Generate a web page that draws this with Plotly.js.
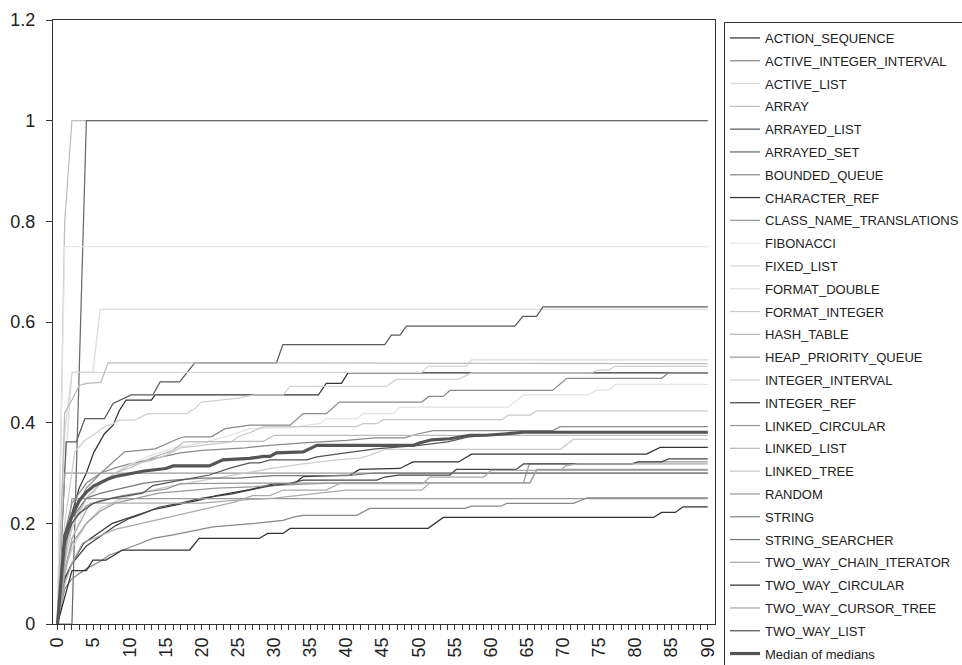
<!DOCTYPE html>
<html>
<head>
<meta charset="utf-8">
<script src="https://cdn.plot.ly/plotly-3.0.1.min.js"></script>
<style>
  html, body { margin: 0; padding: 0; background: #fff; }
  #chart { width: 962px; height: 665px; }
</style>
</head>
<body>
<div id="chart"></div>
<script>
// ---- Data (breakpoints) ----
const ACTION_SEQUENCE_X = [0,1,2,3,4,5,6.5,7.7,8.6,9.5,13,13.5,36.1,37.2,39.3,40.2,90];
const ACTION_SEQUENCE_Y = [0,0.14,0.22,0.27,0.30,0.34,0.378,0.395,0.425,0.445,0.445,0.455,0.455,0.478,0.478,0.499,0.499];

const ACTIVE_INTEGER_INTERVAL_X = [0,1,2,4,6,8,10,14,17,20,26,29.4,34,40,44,48,50,52,68.5,69.6,90];
const ACTIVE_INTEGER_INTERVAL_Y = [0,0.18,0.24,0.28,0.30,0.31,0.318,0.33,0.34,0.345,0.35,0.355,0.36,0.365,0.37,0.37,0.378,0.384,0.384,0.392,0.392];

const ACTIVE_LIST_X = [0,1,2,4.9,5.9,90];
const ACTIVE_LIST_Y = [0,0.30,0.50,0.50,0.625,0.625];

const ARRAY_X = [0,1,2,90];
const ARRAY_Y = [0,0.80,1,1];

const ARRAYED_LIST_X = [0,1,1.2,2.6,3.8,6.5,7.7,10.2,13.2,14.2,16.9,19,30.3,31.2,45.3,46.2,47.4,48.3,63.3,64.4,66.3,67.2,90];
const ARRAYED_LIST_Y = [0,0.32,0.362,0.362,0.408,0.408,0.438,0.455,0.455,0.481,0.481,0.519,0.519,0.555,0.555,0.574,0.574,0.592,0.592,0.611,0.611,0.630,0.630];

const ARRAYED_SET_X = [0,2,4,90];
const ARRAYED_SET_Y = [0,0,1,1];

const BOUNDED_QUEUE_X = [0,1,2,4,6,9.3,13.5,16.7,17.6,21.3,23.2,26.6,32.2,34,37.2,39,50.4,51.4,53.4,54.3,68.5,70.5,83.6,84.6,90];
const BOUNDED_QUEUE_Y = [0,0.15,0.21,0.27,0.30,0.342,0.348,0.368,0.372,0.372,0.388,0.395,0.395,0.418,0.418,0.441,0.441,0.452,0.452,0.464,0.464,0.488,0.488,0.499,0.499];

const CHARACTER_REF_X = [0,1,2,3.6,7.6,9,13.2,19.6,22,26.6,30,32.8,34,40.5,41.8,47.4,49.2,55.5,57.3,81.5,83.4,90];
const CHARACTER_REF_Y = [0,0.09,0.12,0.16,0.20,0.207,0.227,0.246,0.255,0.267,0.279,0.279,0.293,0.296,0.307,0.309,0.322,0.322,0.3375,0.3375,0.3507,0.3507];

const CLASS_NAME_TRANSLATIONS_X = [0,1,90];
const CLASS_NAME_TRANSLATIONS_Y = [0,0.30,0.30];

const FIBONACCI_X = [0,1,90];
const FIBONACCI_Y = [0,0.75,0.75];

const FIXED_LIST_X = [0,1,2,50.4,51.3,56.6,57.3,90];
const FIXED_LIST_Y = [0,0.38,0.50,0.50,0.512,0.512,0.525,0.525];

const FORMAT_DOUBLE_X = [0,1,2,4,6,9,12,16,20,24,26.6,32,36.3,37.2,41.4,42.3,46.5,47.4,62.4,64.5,73.5,74.6,76.3,77.2,90];
const FORMAT_DOUBLE_Y = [0,0.10,0.17,0.24,0.28,0.31,0.33,0.35,0.36,0.375,0.388,0.39,0.398,0.408,0.408,0.418,0.418,0.431,0.431,0.455,0.455,0.4645,0.4645,0.476,0.476];

const FORMAT_INTEGER_X = [0,1,2,4,6,9,12,15,18,22,26,30,34,38,42,43.2,45.3,69.6,71.4,90];
const FORMAT_INTEGER_Y = [0,0.10,0.15,0.20,0.23,0.25,0.262,0.272,0.28,0.29,0.30,0.31,0.318,0.325,0.33,0.335,0.347,0.347,0.3666,0.3666];

const HASH_TABLE_X = [0,1,2,3,4,6,7,90];
const HASH_TABLE_Y = [0,0.42,0.445,0.474,0.478,0.48,0.519,0.5175];

const HEAP_PRIORITY_QUEUE_X = [0,1,2,4,6,8,11,14,18,22,26,30,34,40,64.5,65.3,79.5,80.4,90];
const HEAP_PRIORITY_QUEUE_Y = [0,0.11,0.16,0.20,0.225,0.24,0.25,0.26,0.265,0.27,0.272,0.275,0.278,0.281,0.281,0.318,0.318,0.322,0.322];

const INTEGER_INTERVAL_X = [0,1,2.4,3.8,5.2,6.5,7.7,8.6,10.7,12.5,17.9,19,19.9,24.5,27.3,31.2,32.2,45.5,46.9,55.5,57.3,73.9,74.8,76.3,77.2,90];
const INTEGER_INTERVAL_Y = [0,0.20,0.342,0.365,0.378,0.392,0.398,0.405,0.405,0.418,0.418,0.428,0.441,0.448,0.455,0.455,0.472,0.472,0.486,0.486,0.499,0.499,0.505,0.505,0.512,0.512];

const INTEGER_REF_X = [0,1,2,4,6,8,10,12,14,17,20,24,26.6,30,32,34,44.2,45.3,47.2,54.3,55.2,63.5,64.5,79.5,80.4,83.6,84.6,90];
const INTEGER_REF_Y = [0,0.09,0.12,0.155,0.175,0.195,0.21,0.22,0.232,0.24,0.25,0.258,0.266,0.276,0.279,0.286,0.286,0.292,0.296,0.296,0.307,0.307,0.318,0.318,0.322,0.322,0.328,0.328];

const LINKED_CIRCULAR_X = [0,1,2,4,6,9,12,15,17,30,50.4,51.4,65.4,66.3,90];
const LINKED_CIRCULAR_Y = [0,0.15,0.20,0.235,0.245,0.255,0.262,0.268,0.279,0.28,0.28,0.281,0.281,0.307,0.307];

const LINKED_LIST_X = [0,1,2,4,6,8,10,13,16,17.5,28.5,30,90];
const LINKED_LIST_Y = [0,0.14,0.20,0.25,0.28,0.30,0.31,0.33,0.345,0.362,0.363,0.375,0.375];

const LINKED_TREE_X = [0,1,2,4,6,8,10,13,15,17,20,24.1,25,26.6,28.5,41.4,42.3,44.2,45.1,61.5,62.4,65.4,66.3,90];
const LINKED_TREE_Y = [0,0.12,0.19,0.25,0.28,0.30,0.315,0.325,0.335,0.35,0.355,0.362,0.372,0.38,0.392,0.392,0.398,0.398,0.406,0.406,0.415,0.415,0.4235,0.4235];

const RANDOM_X = [0,2,90];
const RANDOM_Y = [0,0.249,0.249];

const STRING_X = [0,1,2,4,6,7.2,10.9,13.2,16,21.5,27.3,31.2,32.8,34,41.4,43.2,56.4,57.3,61.3,62.2,71.4,73.3,90];
const STRING_Y = [0,0.07,0.09,0.11,0.125,0.137,0.157,0.17,0.177,0.193,0.20,0.206,0.213,0.216,0.216,0.2296,0.2296,0.234,0.234,0.2395,0.2395,0.2508,0.2508];

const STRING_SEARCHER_X = [0,1,2,4,6,9,12,15,20,25,30,40,44,90];
const STRING_SEARCHER_Y = [0,0.16,0.21,0.25,0.26,0.27,0.28,0.285,0.29,0.29,0.295,0.295,0.30,0.30];

const TWO_WAY_CHAIN_ITERATOR_X = [0,1,2,3.5,8,14,20,24.5,27,29.4,31.2,37.2,39,50.6,51.5,59,60,69.6,70.3,72,90];
const TWO_WAY_CHAIN_ITERATOR_Y = [0,0.08,0.12,0.161,0.188,0.208,0.228,0.242,0.255,0.255,0.266,0.266,0.279,0.279,0.292,0.292,0.305,0.305,0.314,0.318,0.318];

const TWO_WAY_CIRCULAR_X = [0,2,4,4.9,6.7,9,18.3,19.6,27.9,29.1,31.2,32.2,51.3,53.4,82.5,83.6,85.5,86.6,90];
const TWO_WAY_CIRCULAR_Y = [0,0.106,0.106,0.127,0.127,0.147,0.147,0.17,0.17,0.18,0.18,0.19,0.19,0.2117,0.2117,0.2217,0.2217,0.2329,0.2329];

const TWO_WAY_CURSOR_TREE_X = [0,1,2,4.5,20,24,30,36,40,50.4,51.5,65.4,66.3,90];
const TWO_WAY_CURSOR_TREE_Y = [0,0.10,0.17,0.24,0.24,0.245,0.25,0.26,0.266,0.266,0.28,0.28,0.305,0.305];

const TWO_WAY_LIST_X = [0,1,2,3,5,7.6,11.8,13.2,16,21,24,26.6,28,29.4,34.5,35.9,40.9,44,50,54,57,62,64.5,90];
const TWO_WAY_LIST_Y = [0,0.16,0.20,0.22,0.24,0.25,0.26,0.275,0.283,0.296,0.31,0.32,0.32,0.326,0.326,0.332,0.342,0.348,0.355,0.362,0.372,0.378,0.381,0.381];

const MEDIAN_X = [0,1,2,3,4,5,6,7,8,10,12,15,16,21,22.9,26.6,28.5,29.4,30.3,34,35.9,49.3,50.2,51.8,54.3,57.1,59.4,62.2,64.5,90];
const MEDIAN_Y = [0,0.175,0.215,0.245,0.262,0.274,0.281,0.288,0.293,0.299,0.304,0.309,0.314,0.314,0.326,0.329,0.333,0.333,0.340,0.342,0.355,0.355,0.36,0.366,0.368,0.375,0.375,0.378,0.381,0.381];

const seriesNames = [
  "ACTION_SEQUENCE","ACTIVE_INTEGER_INTERVAL","ACTIVE_LIST","ARRAY","ARRAYED_LIST","ARRAYED_SET",
  "BOUNDED_QUEUE","CHARACTER_REF","CLASS_NAME_TRANSLATIONS","FIBONACCI","FIXED_LIST","FORMAT_DOUBLE",
  "FORMAT_INTEGER","HASH_TABLE","HEAP_PRIORITY_QUEUE","INTEGER_INTERVAL","INTEGER_REF","LINKED_CIRCULAR",
  "LINKED_LIST","LINKED_TREE","RANDOM","STRING","STRING_SEARCHER","TWO_WAY_CHAIN_ITERATOR",
  "TWO_WAY_CIRCULAR","TWO_WAY_CURSOR_TREE","TWO_WAY_LIST"
];
const seriesX = [
  ACTION_SEQUENCE_X, ACTIVE_INTEGER_INTERVAL_X, ACTIVE_LIST_X, ARRAY_X, ARRAYED_LIST_X, ARRAYED_SET_X,
  BOUNDED_QUEUE_X, CHARACTER_REF_X, CLASS_NAME_TRANSLATIONS_X, FIBONACCI_X, FIXED_LIST_X, FORMAT_DOUBLE_X,
  FORMAT_INTEGER_X, HASH_TABLE_X, HEAP_PRIORITY_QUEUE_X, INTEGER_INTERVAL_X, INTEGER_REF_X, LINKED_CIRCULAR_X,
  LINKED_LIST_X, LINKED_TREE_X, RANDOM_X, STRING_X, STRING_SEARCHER_X, TWO_WAY_CHAIN_ITERATOR_X,
  TWO_WAY_CIRCULAR_X, TWO_WAY_CURSOR_TREE_X, TWO_WAY_LIST_X
];
const seriesY = [
  ACTION_SEQUENCE_Y, ACTIVE_INTEGER_INTERVAL_Y, ACTIVE_LIST_Y, ARRAY_Y, ARRAYED_LIST_Y, ARRAYED_SET_Y,
  BOUNDED_QUEUE_Y, CHARACTER_REF_Y, CLASS_NAME_TRANSLATIONS_Y, FIBONACCI_Y, FIXED_LIST_Y, FORMAT_DOUBLE_Y,
  FORMAT_INTEGER_Y, HASH_TABLE_Y, HEAP_PRIORITY_QUEUE_Y, INTEGER_INTERVAL_Y, INTEGER_REF_Y, LINKED_CIRCULAR_Y,
  LINKED_LIST_Y, LINKED_TREE_Y, RANDOM_Y, STRING_Y, STRING_SEARCHER_Y, TWO_WAY_CHAIN_ITERATOR_Y,
  TWO_WAY_CIRCULAR_Y, TWO_WAY_CURSOR_TREE_Y, TWO_WAY_LIST_Y
];
const medianName = "Median of medians";

// ---- Styles ----
const seriesColors = [
  "#333333","#8a8a8a","#dcdcdc","#bdbdbd","#5a5a5a","#6a6a6a",
  "#8a8a8a","#333333","#9a9a9a","#e6e6e6","#d8d8d8","#e2e2e2",
  "#cccccc","#bbbbbb","#9a9a9a","#d0d0d0","#444444","#9a9a9a",
  "#bbbbbb","#c8c8c8","#9a9a9a","#888888","#777777","#aaaaaa",
  "#333333","#aaaaaa","#555555"
];

const xTickVals = [];
const xTickText = [];
for (let i = 0; i <= 90; i++) { xTickVals.push(i); xTickText.push(i % 5 === 0 ? String(i) : ""); }
const yTickVals = [0, 0.2, 0.4, 0.6, 0.8, 1, 1.2];
const yTickText = ["0", "0.2", "0.4", "0.6", "0.8", "1", "1.2"];

const traces = seriesNames.map((n, i) => ({
  type: "scatter", mode: "lines", name: n, legendgroup: n,
  x: seriesX[i], y: seriesY[i],
  line: { color: seriesColors[i], width: 1.25 },
  hoverinfo: "skip"
}));
traces.push({
  type: "scatter", mode: "lines", name: medianName, legendgroup: medianName,
  x: MEDIAN_X, y: MEDIAN_Y,
  line: { color: "#555555", width: 3.2 },
  hoverinfo: "skip"
});

const FONT = '"Liberation Sans", Arial, Helvetica, sans-serif';

const layout = {
  width: 962, height: 665,
  margin: { l: 53, r: 247, t: 20, b: 41, autoexpand: false },
  paper_bgcolor: "#ffffff", plot_bgcolor: "#ffffff",
  font: { family: FONT, color: "#222" },
  showlegend: true,
  xaxis: {
    range: [-0.62, 91.0], tickmode: "array", tickvals: xTickVals, ticktext: xTickText,
    tickangle: -90, ticks: "outside", ticklen: 5, tickcolor: "#333", tickwidth: 1,
    showline: true, linecolor: "#333", linewidth: 1.2, mirror: true,
    showgrid: false, zeroline: false,
    tickfont: { family: FONT, size: 18, color: "#222" }
  },
  yaxis: {
    range: [0, 1.2], tickmode: "array", tickvals: yTickVals, ticktext: yTickText,
    ticks: "outside", ticklen: 6, tickcolor: "#333", tickwidth: 1,
    ticklabelstandoff: 7,
    showline: true, linecolor: "#333", linewidth: 1.2, mirror: true,
    showgrid: false, zeroline: false,
    tickfont: { family: FONT, size: 18, color: "#222" }
  },
  legend: {
    x: 1.0136, y: 0.9967, xanchor: "left", yanchor: "top",
    bordercolor: "#333", borderwidth: 1, bgcolor: "#ffffff",
    traceorder: "grouped", tracegroupgap: 2.9,
    maxheight: 700,
    font: { family: FONT, size: 13, color: "#222" },
    itemclick: false, itemdoubleclick: false
  }
};

Plotly.newPlot("chart", traces, layout, { staticPlot: true, displayModeBar: false });
</script>
</body>
</html>
